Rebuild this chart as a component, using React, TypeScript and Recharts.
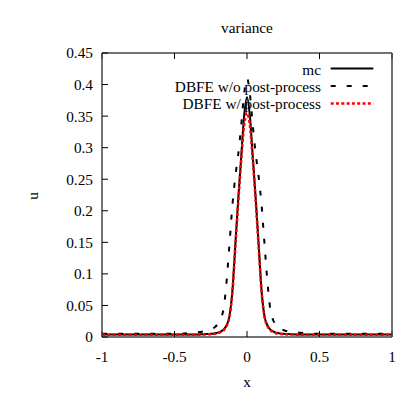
import React from "react";
import { LineChart, Line, XAxis, YAxis } from "recharts";

const xs = [-1, -0.9, -0.8, -0.7, -0.6, -0.5, -0.4, -0.35, -0.3, -0.25, -0.22, -0.2, -0.18, -0.16, -0.14, -0.12, -0.1, -0.08, -0.06, -0.04, -0.02, 0, 0.02, 0.04, 0.06, 0.08, 0.1, 0.12, 0.14, 0.16, 0.18, 0.2, 0.22, 0.25, 0.3, 0.35, 0.4, 0.5, 0.6, 0.7, 0.8, 0.9, 1];
const mc = [0.004, 0.004, 0.004, 0.004, 0.004, 0.004, 0.004, 0.004, 0.0045, 0.005, 0.006, 0.007, 0.009, 0.012, 0.019, 0.034, 0.075, 0.148, 0.22, 0.285, 0.35, 0.38, 0.35, 0.285, 0.22, 0.148, 0.075, 0.034, 0.019, 0.012, 0.009, 0.007, 0.006, 0.005, 0.0045, 0.004, 0.004, 0.004, 0.004, 0.004, 0.004, 0.004, 0.004];
const dbfeNoPost = [0.005, 0.005, 0.005, 0.005, 0.005, 0.005, 0.006, 0.007, 0.009, 0.012, 0.016, 0.021, 0.029, 0.047, 0.09, 0.15, 0.21, 0.255, 0.29, 0.335, 0.385, 0.41, 0.385, 0.335, 0.29, 0.255, 0.21, 0.15, 0.09, 0.045, 0.027, 0.019, 0.014, 0.011, 0.008, 0.007, 0.006, 0.005, 0.005, 0.005, 0.005, 0.005, 0.005];
const dbfePost = [0.0035, 0.0035, 0.0035, 0.0035, 0.0035, 0.0035, 0.0035, 0.0035, 0.004, 0.0045, 0.005, 0.006, 0.008, 0.011, 0.018, 0.033, 0.073, 0.145, 0.215, 0.28, 0.335, 0.355, 0.335, 0.28, 0.215, 0.145, 0.073, 0.033, 0.018, 0.011, 0.008, 0.006, 0.005, 0.0045, 0.004, 0.0035, 0.0035, 0.0035, 0.0035, 0.0035, 0.0035, 0.0035, 0.0035];

const xTicks = [-1, -0.5, 0, 0.5, 1];
const yTicks = [0, 0.05, 0.1, 0.15, 0.2, 0.25, 0.3, 0.35, 0.4, 0.45];
const xTickLabels = ["-1", "-0.5", "0", "0.5", "1"];
const yTickLabels = ["0", "0.05", "0.1", "0.15", "0.2", "0.25", "0.3", "0.35", "0.4", "0.45"];

const seriesNames = ["mc", "DBFE w/o post-process", "DBFE w/ post-process"];

const data = xs.map((x, i) => ({ x, mc: mc[i], no: dbfeNoPost[i], post: dbfePost[i] }));

const FONT = "Liberation Serif";
const FRAME = "#444";
const W = 407;
const H = 387;
const FS = 15.3;

const Empty = () => <g />;

const tickStyle = { fill: "#000", fontSize: FS, fontFamily: FONT };

export default function App() {
  return (
    <div style={{ position: "relative", width: W, height: H, fontFamily: FONT }}>
      <LineChart width={W} height={H} data={data} margin={{ top: 44, right: 22, left: 34, bottom: 28 }}>
        <XAxis
          xAxisId="b"
          dataKey="x"
          type="number"
          domain={[-1, 1]}
          ticks={xTicks}
          tickFormatter={(v: number) => xTickLabels[xTicks.indexOf(v)] ?? String(v)}
          height={30}
          tickSize={-6}
          tickMargin={20}
          axisLine={{ stroke: FRAME, strokeWidth: 1.5 }}
          tickLine={{ stroke: "#000", strokeWidth: 1 }}
          tick={tickStyle}
          allowDataOverflow
        />
        <XAxis
          xAxisId="t"
          orientation="top"
          dataKey="x"
          type="number"
          domain={[-1, 1]}
          ticks={xTicks}
          height={1}
          tickSize={-6}
          axisLine={{ stroke: FRAME, strokeWidth: 1.5 }}
          tickLine={{ stroke: "#000", strokeWidth: 1 }}
          tick={Empty}
        />
        <YAxis
          yAxisId="l"
          type="number"
          domain={[0, 0.45]}
          ticks={yTicks}
          tickFormatter={(v: number) => yTickLabels[yTicks.indexOf(v)] ?? String(v)}
          width={60}
          tickSize={-6}
          tickMargin={15}
          axisLine={{ stroke: FRAME, strokeWidth: 1.5 }}
          tickLine={{ stroke: "#000", strokeWidth: 1 }}
          tick={tickStyle}
          allowDataOverflow
        />
        <YAxis
          yAxisId="r"
          orientation="right"
          type="number"
          domain={[0, 0.45]}
          ticks={yTicks}
          width={1}
          tickSize={-6}
          axisLine={{ stroke: FRAME, strokeWidth: 1.5 }}
          tickLine={{ stroke: "#000", strokeWidth: 1 }}
          tick={Empty}
        />
        <Line xAxisId="b" yAxisId="l" dataKey="mc" type="monotone" stroke="#000" strokeWidth={2} dot={false} isAnimationActive={false} />
        <Line xAxisId="b" yAxisId="l" dataKey="no" type="monotone" stroke="#000" strokeWidth={2} strokeDasharray="5 11" dot={false} isAnimationActive={false} />
        <Line xAxisId="b" yAxisId="l" dataKey="post" type="monotone" stroke="#ff0000" strokeWidth={2.5} strokeDasharray="3 2.3" dot={false} isAnimationActive={false} />
      </LineChart>
      <svg width={W} height={H} style={{ position: "absolute", left: 0, top: 0, pointerEvents: "none" }}>
        <g fontSize={FS} fill="#000" fontFamily={FONT}>
          <text x={239} y={19} textAnchor="middle" dominantBaseline="central">variance</text>
          <text x={239} y={373} textAnchor="middle" dominantBaseline="central">x</text>
          <text x={24} y={188} textAnchor="middle" dominantBaseline="central" transform="rotate(-90 24 188)">u</text>
          <text x={313} y={61} textAnchor="end" dominantBaseline="central">{seriesNames[0]}</text>
          <text x={313} y={78} textAnchor="end" dominantBaseline="central">{seriesNames[1]}</text>
          <text x={313} y={95.5} textAnchor="end" dominantBaseline="central">{seriesNames[2]}</text>
        </g>
        <line x1={322.7} x2={365.3} y1={60.5} y2={60.5} stroke="#000" strokeWidth={2} />
        <line x1={322.7} x2={365.3} y1={78} y2={78} stroke="#000" strokeWidth={2} strokeDasharray="5 11" />
        <line x1={322.7} x2={365.3} y1={95.5} y2={95.5} stroke="#ff0000" strokeWidth={2.5} strokeDasharray="3 2.3" />
      </svg>
    </div>
  );
}
